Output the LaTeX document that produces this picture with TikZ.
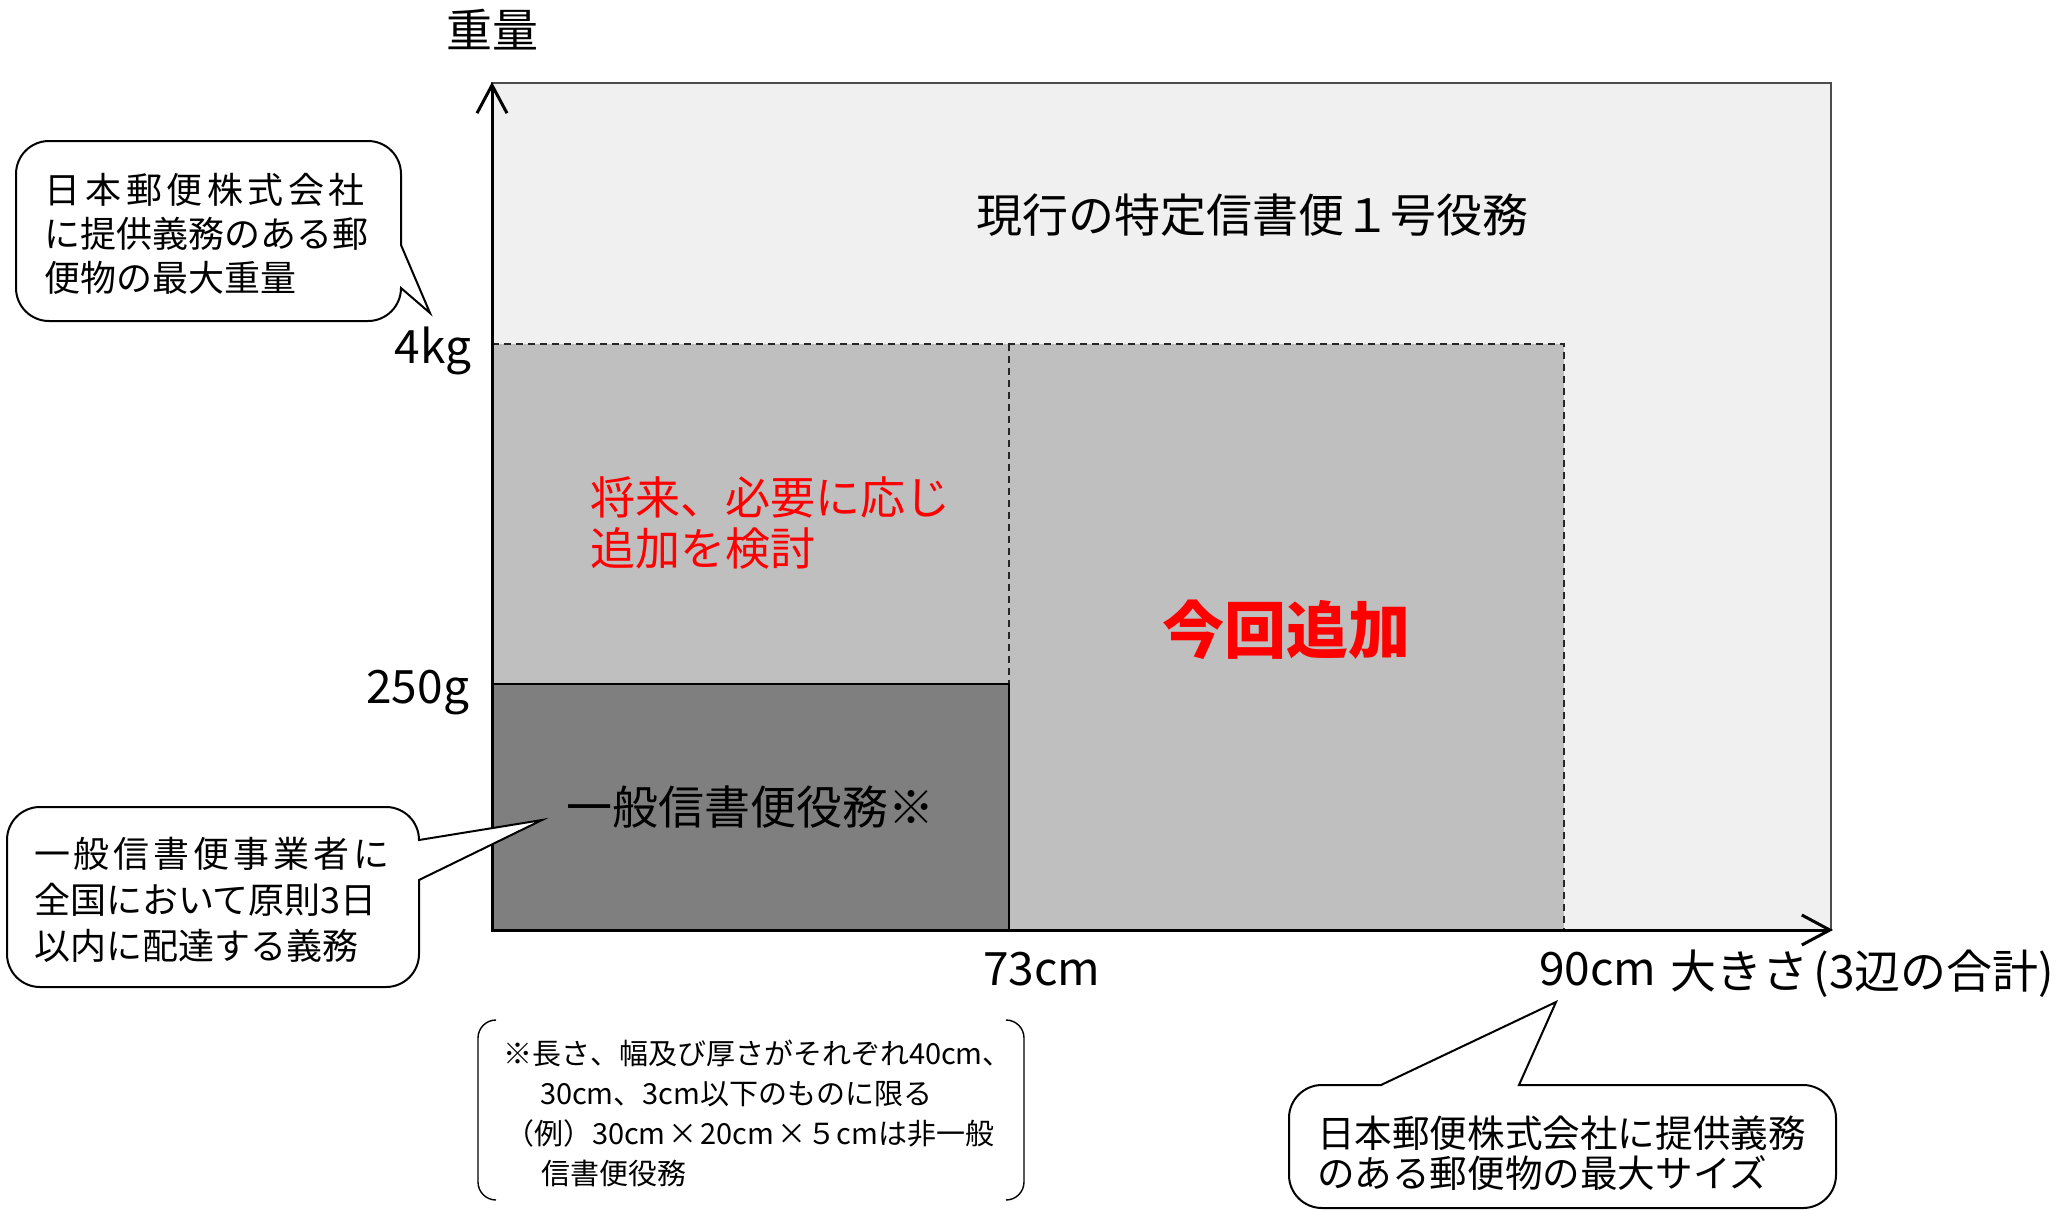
\documentclass[tikz,border=0pt]{standalone}
\usepackage{fontspec}
\setmainfont{Noto Sans CJK JP}
\usetikzlibrary{arrows.meta}
\definecolor{bgA}{HTML}{F0F0F0}
\definecolor{grayB}{HTML}{BFBFBF}
\definecolor{grayC}{HTML}{7F7F7F}
\definecolor{redT}{HTML}{FF0000}
\newcommand{\fsz}[1]{\fontsize{#1}{#1}\selectfont}
\begin{document}
\begin{tikzpicture}[x=0.5pt,y=0.5pt,
  lbl/.style={inner sep=0pt, outer sep=0pt},
  big/.style={lbl, font=\fsz{23}},
  axislbl/.style={lbl, font=\fsz{23}},
  calltext/.style={lbl, anchor=base west, font=\fsz{18}},
  notetext/.style={lbl, anchor=base west, font=\fsz{14.5}},
  callout/.style={draw=black, line width=1pt, fill=white},
  bracketline/.style={draw=black, line width=0.7pt},
  dashline/.style={draw=black!85, line width=0.7pt, dash pattern=on 3.5pt off 2.5pt},
  axis/.style={draw=black, line width=1.5pt, {Straight Barb[length=14pt,width=15pt,line width=1.5pt]}-{Straight Barb[length=14pt,width=15pt,line width=1.5pt]}}
]
\useasboundingbox (0,0) rectangle (2069,-1211);

% chart regions
\draw[fill=bgA, draw=black!70, line width=1pt] (492,-83) rectangle (1831,-930);
\fill[grayB] (492,-344) rectangle (1564,-930);
\draw[dashline] (492,-344) -- (1564,-344) -- (1564,-930);
\draw[dashline] (1009,-344) -- (1009,-684);
\draw[fill=grayC, draw=black, line width=0.8pt] (492,-684) rectangle (1009,-930);

% axes
\coordinate (O) at (492,-930);
\coordinate (ytip) at (492,-82);
\coordinate (xtip) at (1833,-930);
\draw[axis] (ytip) -- (O) -- (xtip);

% axis labels
\node[big] (ylab) at (492,-30) {重量};
\node[axislbl, anchor=base east] (w4) at (471,-363) {4kg};
\node[axislbl, anchor=base east] (w250) at (469,-703) {250g};
\node[axislbl, anchor=base] (s73) at (1042,-985) {73cm};
\node[axislbl, anchor=base] (s90) at (1598,-985) {90cm};
\node[lbl, anchor=base west, font=\fsz{23}] (xlab) at (1670,-988) {大きさ\kern0.12em(3辺の合計)};

% region labels
\node[big] (title) at (1252,-215) {現行の特定信書便１号役務};
\node[big] (general) at (750,-807) {一般信書便役務※};
\node[lbl, anchor=base west, font=\fsz{22.5}, text=redT] (fut1) at (590,-514) {将来、必要に応じ};
\node[lbl, anchor=base west, font=\fsz{22.5}, text=redT] (fut2) at (590,-565) {追加を検討};
\node[lbl, font=\bfseries\fsz{31}, text=redT] (added) at (1286,-630) {今回追加};

% top-left callout
\draw[callout] (49,-141) -- (368,-141) arc[start angle=90, end angle=0, radius=33]
  -- (401,-245) -- (430,-313) -- (401,-288) arc[start angle=0, end angle=-90, radius=33]
  -- (49,-321) arc[start angle=-90, end angle=-180, radius=33]
  -- (16,-174) arc[start angle=180, end angle=90, radius=33] -- cycle;
\node[calltext] (tl1) at (45,-203) {\makebox[160pt][s]{日\hfill 本\hfill 郵\hfill 便\hfill 株\hfill 式\hfill 会\hfill 社}};
\node[calltext] (tl2) at (45,-247) {に提供義務のある郵};
\node[calltext] (tl3) at (45,-291) {便物の最大重量};

% bottom-left callout
\draw[callout] (40,-807) -- (386,-807) arc[start angle=90, end angle=0, radius=33]
  -- (542,-820) -- (419,-880)
  -- (419,-954) arc[start angle=0, end angle=-90, radius=33]
  -- (40,-987) arc[start angle=-90, end angle=-180, radius=33]
  -- (7,-840) arc[start angle=180, end angle=90, radius=33] -- cycle;
\node[calltext] (bl1) at (34,-867) {\makebox[178pt][s]{一\hfill 般\hfill 信\hfill 書\hfill 便\hfill 事\hfill 業\hfill 者\hfill に}};
\node[calltext] (bl2) at (34,-913) {全国において原則3日};
\node[calltext] (bl3) at (34,-959) {以内に配達する義務};

% bottom-right callout
\draw[callout] (1322,-1085) -- (1381,-1085) -- (1556,-1002) -- (1519,-1085)
  -- (1803,-1085) arc[start angle=90, end angle=0, radius=33]
  -- (1836,-1175) arc[start angle=0, end angle=-90, radius=33]
  -- (1322,-1208) arc[start angle=-90, end angle=-180, radius=33]
  -- (1289,-1118) arc[start angle=180, end angle=90, radius=33] -- cycle;
\node[calltext, font=\fsz{18.8}] (br1) at (1317,-1147) {日本郵便株式会社に提供義務};
\node[calltext, font=\fsz{18.8}] (br2) at (1317,-1187) {のある郵便物の最大サイズ};

% note brackets
\draw[bracketline] (496,-1020) arc[start angle=90, end angle=180, radius=18]
  -- (478,-1182) arc[start angle=180, end angle=270, radius=18];
\draw[bracketline] (1006,-1020) arc[start angle=90, end angle=0, radius=18]
  -- (1024,-1182) arc[start angle=0, end angle=-90, radius=18];
\node[notetext] (n1) at (503,-1064) {※長さ、幅及び厚さがそれぞれ40cm、};
\node[notetext] (n2) at (540,-1104) {30cm、3cm以下のものに限る};
\node[notetext] (n3) at (505,-1144) {（例）30cm\kern0.1em×\kern0.1em20cm\kern0.1em×\kern0.05em５cmは非一般};
\node[notetext] (n4) at (541,-1184) {信書便役務};
\end{tikzpicture}
\end{document}
